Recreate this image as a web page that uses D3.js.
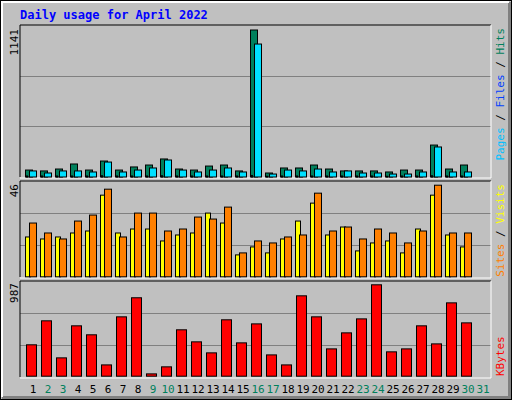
<!DOCTYPE html><html><head><meta charset="utf-8">
<script src="https://cdn.jsdelivr.net/npm/d3@7"></script>
<style>body{margin:0;background:#fff}text{font-family:"DejaVu Sans Mono",monospace}</style></head><body>
<svg id="c" width="512" height="400"></svg>
<script>
const days=d3.range(1,32);
const weekend=[2,3,9,10,16,17,23,24,30,31];
const hits=[54,47,62,101,54,124,54,78,93,140,62,54,85,93,47,1141,31,70,70,93,62,47,47,47,39,54,54,248,62,93,0];
const files=[47,31,47,47,39,116,39,54,70,132,54,39,54,70,39,1032,23,54,47,62,39,47,31,31,23,23,39,233,39,39,0];
const pages=[8,8,8,8,8,10,8,8,8,10,8,8,8,8,8,12,6,8,8,8,8,8,8,8,6,8,8,10,8,8,0];
const visits=[27,22,19,28,31,44,20,32,32,23,24,30,29,35,12,18,17,20,21,42,23,25,19,24,22,17,23,46,22,22,0];
const sites=[20,19,20,22,23,41,22,24,24,18,21,22,32,27,11,15,12,19,28,37,21,25,13,17,18,12,24,41,21,15,0];
const kbytes=[339,598,198,544,447,122,641,847,25,101,501,371,252,609,360,565,230,122,868,641,295,468,619,987,263,295,544,349,792,576,0];

const svg=d3.select("#c");
svg.append("rect").attr("x",0).attr("y",0).attr("width",512).attr("height",400).attr("fill","#c0c0c0");
svg.append("rect").attr("x",0.5).attr("y",0.5).attr("width",511).attr("height",399).attr("fill","none").attr("stroke","#000");
svg.append("path").attr("d","M2,397.5H509.5V2").attr("fill","none").attr("stroke","#808080").attr("stroke-width",3);
svg.append("path").attr("d","M2,397V2H509").attr("fill","none").attr("stroke","#fff").attr("stroke-width",2);
svg.append("text").attr("x",20).attr("y",19).text("Daily usage for April 2022").attr("fill","#0000ff").attr("font-weight","bold").attr("font-size",12);

const x=d3.scaleBand().domain(days).range([25,490]).paddingInner(0);
const left=20,right=491;
function frame(top,bot){
  [1/3,2/3].forEach(f=>svg.append("line").attr("x1",left).attr("x2",right).attr("y1",Math.round(bot-(bot-top)*f)+0.5).attr("y2",Math.round(bot-(bot-top)*f)+0.5).attr("stroke","#808080"));
  svg.append("path").attr("d",`M${left},${bot}V${top}H${right}`).attr("fill","none").attr("stroke","#000");
  svg.append("path").attr("d",`M${left},${bot+1}H${right}V${top}`).attr("fill","none").attr("stroke","#fff");
}
function bars(data,y,dx,w,color){
  svg.append("g").selectAll("rect").data(days.filter((d,i)=>data[i]>0)).join("rect")
   .attr("x",d=>x(d)+dx+0.5).attr("width",w).attr("y",d=>y(data[d-1])+0.5)
   .attr("height",d=>y(0)-y(data[d-1])).attr("fill",color).attr("stroke","#000");
}
function vlabel(t,xx,yy,anchor,parts){
  const tx=svg.append("text").attr("transform",`translate(${xx},${yy}) rotate(-90)`).attr("text-anchor",anchor).attr("font-size",11);
  parts.forEach(p=>tx.append("tspan").text(p[0]).attr("fill",p[1]));
}
// panel 1
frame(25,177);
const y1=d3.scaleLinear().domain([0,1141]).range([176.5,29.5]);
bars(hits,y1,0,7,"#00805c");
bars(files,y1,4,7,"#00e0ff");
bars(pages,y1,1,1,"#0000ff");
vlabel("",18,29,"end",[["1141","#000"]]);
vlabel("",504,28,"end",[["Pages","#00c0ff"],[" / ","#000"],["Files","#0040ff"],[" / ","#000"],["Hits","#00805c"]]);
// panel 2
frame(181,277);
const y2=d3.scaleLinear().domain([0,46]).range([276.3,184.7]);
bars(sites,y2,0,5,"#ffff00");
bars(visits,y2,4,7,"#ff8000");
vlabel("",18,184,"end",[["46","#000"]]);
vlabel("",504,184,"end",[["Sites","#ff8000"],[" / ","#000"],["Visits","#ffff00"]]);
// panel 3
frame(281,377);
const y3=d3.scaleLinear().domain([0,987]).range([375.7,284.3]);
bars(kbytes,y3,1,10,"#ff0000");
vlabel("",18,283,"end",[["987","#000"]]);
vlabel("",504,376,"start",[["KBytes","#ff0000"]]);
// day labels
svg.append("g").selectAll("text").data(days).join("text")
 .attr("x",d=>x(d)+8).attr("y",393).attr("text-anchor","middle").attr("font-size",11)
 .attr("fill",d=>weekend.includes(d)?"#00805c":"#000").text(d=>d);
</script></body></html>
